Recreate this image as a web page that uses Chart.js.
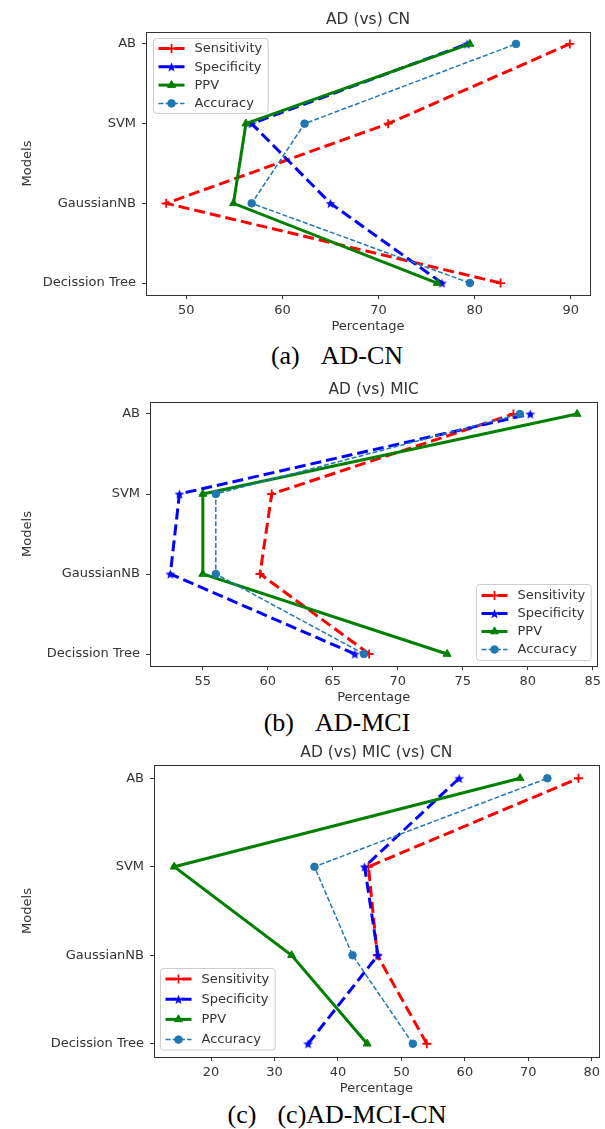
<!DOCTYPE html>
<html><head><meta charset="utf-8">
<script src="https://cdn.jsdelivr.net/npm/chart.js@4.4.1/dist/chart.umd.min.js"></script>
<style>
html,body{margin:0;padding:0;background:#fff;overflow:hidden;}
body{width:605px;height:1129px;position:relative;}
canvas{position:absolute;left:0;}
.cap{position:absolute;left:337px;transform:translateX(-50%);font-family:'Liberation Serif','Times New Roman',serif;font-size:26px;line-height:26px;color:#000;white-space:nowrap;}
.cap span{display:inline-block;margin-left:21px;}
</style></head>
<body>
<canvas id="c1" width="605" height="335" style="top:0px"></canvas>
<div class="cap" style="top:343px">(a)<span>AD-CN</span></div>
<canvas id="c2" width="605" height="336" style="top:370px"></canvas>
<div class="cap" style="top:710px">(b)<span>AD-MCI</span></div>
<canvas id="c3" width="605" height="364" style="top:733px"></canvas>
<div class="cap" style="top:1102px">(c)<span>(c)AD-MCI-CN</span></div>
<script>
// ---------- data (categories listed bottom to top) ----------
const categories = ['Decission Tree', 'GaussianNB', 'SVM', 'AB'];
const seriesNames = ['Sensitivity', 'Specificity', 'PPV', 'Accuracy'];

// (a) AD (vs) CN
const sens1 = [82.7, 47.9, 71.0, 89.9];
const spec1 = [76.6, 65.0, 56.8, 79.2];
const ppv1  = [76.1, 54.9, 56.2, 79.5];
const acc1  = [79.5, 56.8, 62.3, 84.3];
const xTicks1 = [50, 60, 70, 80, 90];

// (b) AD (vs) MIC
const sens2 = [67.8, 59.4, 60.3, 78.9];
const spec2 = [66.7, 52.5, 53.2, 80.2];
const ppv2  = [73.8, 55.0, 55.0, 83.8];
const acc2  = [67.4, 56.0, 56.0, 79.4];
const xTicks2 = [55, 60, 65, 70, 75, 80, 85];

// (c) AD (vs) MIC (vs) CN
const sens3 = [54.0, 46.2, 44.8, 77.9];
const spec3 = [35.3, 46.3, 44.2, 59.1];
const ppv3  = [44.6, 32.7, 14.2, 68.7];
const acc3  = [51.8, 42.3, 36.3, 73.0];
const xTicks3 = [20, 30, 40, 50, 60, 70, 80];

// ---------- styling ----------
Chart.defaults.font.family = "'DejaVu Sans', sans-serif";
const TXT = '#333';

function starCanvas(color, r) {
  const s = Math.ceil(r * 2 + 2);
  const c = document.createElement('canvas');
  c.width = c.height = s;
  const g = c.getContext('2d');
  g.fillStyle = color;
  g.beginPath();
  for (let k = 0; k < 10; k++) {
    const rr = k % 2 ? r * 0.42 : r;
    const ang = -Math.PI / 2 + k * Math.PI / 5;
    const px = s / 2 + rr * Math.cos(ang), py = s / 2 + 0.6 + rr * Math.sin(ang);
    if (k) g.lineTo(px, py); else g.moveTo(px, py);
  }
  g.closePath(); g.fill();
  return c;
}
const blueStar = starCanvas('#0000ff', 5.2);

const styles = [
  {borderColor:'#ff0000', borderWidth:3, borderDash:[11,5], pointStyle:'cross', pointRadius:4.5, pointBorderWidth:1.8, pointBackgroundColor:'#ff0000', pointBorderColor:'#ff0000', order:3},
  {borderColor:'#0000ff', borderWidth:3, borderDash:[11,5], pointStyle:blueStar, pointRadius:5, pointBorderWidth:0, pointBackgroundColor:'#0000ff', pointBorderColor:'#0000ff', order:2},
  {borderColor:'#008000', borderWidth:3, borderDash:[], pointStyle:'triangle', pointRadius:4.6, pointBorderWidth:1, pointBackgroundColor:'#008000', pointBorderColor:'#008000', order:1},
  {borderColor:'#1f77b4', borderWidth:1.5, borderDash:[5,2.2], pointStyle:'circle', pointRadius:3.8, pointBorderWidth:1, pointBackgroundColor:'#1f77b4', pointBorderColor:'#1f77b4', order:0}
];

const framePlugin = {
  id: 'mplFrame',
  afterDatasetsDraw(chart, args, opts) {
    const ctx = chart.ctx, a = chart.chartArea;
    ctx.save();
    ctx.setLineDash([]);
    ctx.strokeStyle = TXT; ctx.lineWidth = 1;
    const l = Math.round(a.left) + 0.5, t = Math.round(a.top) + 0.5;
    const r = Math.round(a.right) + 0.5, b = Math.round(a.bottom) + 0.5;
    ctx.strokeRect(l, t, r - l, b - t);
    // legend
    const lg = opts;
    ctx.font = "13px 'DejaVu Sans', sans-serif";
    const maxW = Math.max(...chart.data.datasets.map(d => ctx.measureText(d.label).width));
    const w = 5 + 26 + 10 + maxW + 6;
    const h = 2 * lg.first + (chart.data.datasets.length - 1) * lg.rowH;
    let x, y;
    if (lg.corner === 'tl') { x = a.left + lg.ox; y = a.top + lg.oy; }
    else if (lg.corner === 'br') { x = a.right - lg.ox - w; y = a.bottom - lg.oy - h; }
    else { x = a.left + lg.ox; y = a.bottom - lg.oy - h; }
    x = Math.round(x) + 0.5; y = Math.round(y) + 0.5;
    ctx.beginPath();
    if (ctx.roundRect) ctx.roundRect(x, y, w, h, 3); else ctx.rect(x, y, w, h);
    ctx.fillStyle = 'rgba(255,255,255,0.85)'; ctx.fill();
    ctx.strokeStyle = '#cccccc'; ctx.lineWidth = 1; ctx.stroke();
    chart.data.datasets.forEach((d, i) => {
      const yy = y + lg.first + i * lg.rowH;
      ctx.save();
      ctx.strokeStyle = d.borderColor; ctx.lineWidth = d.borderWidth;
      ctx.setLineDash(d.borderDash || []);
      ctx.beginPath(); ctx.moveTo(x + 5, yy); ctx.lineTo(x + 31, yy); ctx.stroke();
      ctx.setLineDash([]);
      ctx.fillStyle = d.pointBackgroundColor; ctx.strokeStyle = d.pointBorderColor;
      ctx.lineWidth = d.pointBorderWidth;
      Chart.helpers.drawPoint(ctx, {pointStyle: d.pointStyle, radius: d.pointRadius, rotation: 0, borderWidth: d.pointBorderWidth}, x + 18, yy);
      ctx.restore();
      ctx.fillStyle = TXT; ctx.textBaseline = 'middle'; ctx.textAlign = 'left';
      ctx.fillText(d.label, x + 41, yy + 0.5);
    });
    ctx.restore();
  }
};

function makeChart(id, title, series, xTicks, geom) {
  const all = series.flat();
  const lo = Math.min(...all), hi = Math.max(...all);
  const m = (hi - lo) * 0.05;
  const datasets = series.map((vals, s) => Object.assign({
    label: seriesNames[s],
    data: categories.map((c, i) => ({x: vals[i], y: i})),
    showLine: true, fill: false, tension: 0
  }, styles[s]));
  return new Chart(document.getElementById(id), {
    type: 'scatter',
    data: {datasets},
    plugins: [framePlugin],
    options: {
      responsive: false, animation: false, events: [],
      layout: {padding: {left: 0, right: geom.padRight, top: 0, bottom: 0}},
      plugins: {
        legend: {display: false}, tooltip: {enabled: false},
        title: {display: true, text: title, fullSize: false, color: TXT,
                font: {size: 15.5, weight: 'normal'}, padding: {top: 10.7, bottom: 2.7}},
        mplFrame: geom.legend
      },
      scales: {
        x: {
          type: 'linear', min: lo - m, max: hi + m,
          afterBuildTicks: s => { s.ticks = xTicks.map(v => ({value: v})); },
          afterFit: s => { s.height = 40; },
          grid: {display: true, drawOnChartArea: false, drawTicks: true, tickLength: 4, color: TXT},
          border: {display: false},
          ticks: {padding: 4, color: TXT, font: {size: 13}, autoSkip: false, maxRotation: 0, callback: v => String(v)},
          title: {display: true, text: 'Percentage', color: TXT, font: {size: 13}, padding: {top: 0, bottom: 1}}
        },
        y: {
          type: 'linear', min: -0.15, max: categories.length - 1 + 0.15,
          afterBuildTicks: s => { s.ticks = categories.map((c, i) => ({value: i})); },
          afterFit: s => { s.width = geom.yw; },
          grid: {display: true, drawOnChartArea: false, drawTicks: true, tickLength: 4, color: TXT},
          border: {display: false},
          ticks: {padding: 6, color: TXT, font: {size: 13}, autoSkip: false, callback: v => categories[v]},
          title: {display: true, text: 'Models', color: TXT, font: {size: 13}, padding: {top: 20, bottom: 0}}
        }
      }
    }
  });
}

makeChart('c1', 'AD (vs) CN', [sens1, spec1, ppv1, acc1], xTicks1,
  {yw: 146, padRight: 15, legend: {corner: 'tl', ox: 7, oy: 6, first: 10, rowH: 18.3}});
makeChart('c2', 'AD (vs) MIC', [sens2, spec2, ppv2, acc2], xTicks2,
  {yw: 150, padRight: 5, legend: {corner: 'br', ox: 7, oy: 6, first: 11, rowH: 18}});
makeChart('c3', 'AD (vs) MIC (vs) CN', [sens3, spec3, ppv3, acc3], xTicks3,
  {yw: 154, padRight: 5, legend: {corner: 'bl', ox: 6, oy: 7, first: 10.5, rowH: 20.2}});
</script>
</body></html>
